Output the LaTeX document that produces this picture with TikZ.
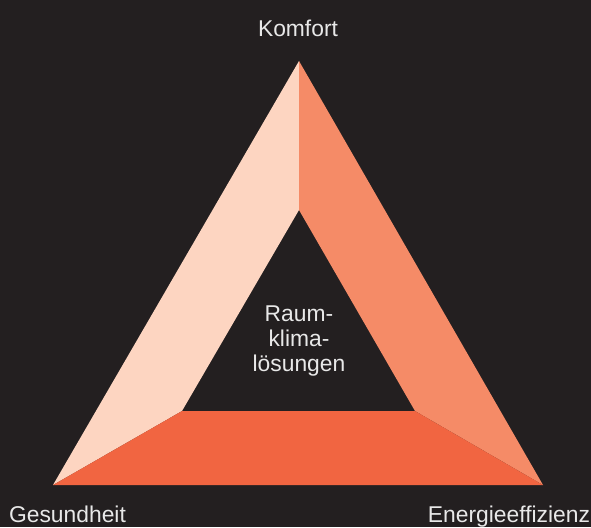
\documentclass[tikz,border=0pt]{standalone}
\usepackage{fontspec}
\setmainfont{Liberation Sans}
\definecolor{bg}{HTML}{231F20}
\definecolor{peach}{HTML}{FDD5C1}
\definecolor{salmon}{HTML}{F58B67}
\definecolor{coral}{HTML}{F16541}
\definecolor{txt}{HTML}{E8E8E8}

\begin{document}
\begin{tikzpicture}[x=0.02cm, y=-0.02cm,
    label text/.style={text=txt, font=\fontsize{13}{14.2}\selectfont, inner sep=0pt, align=center}]
                    \fill[bg] (0,0) rectangle (591,527);
                    \useasboundingbox (0,0) rectangle (591,527);
                    % outer and inner corners
                    \coordinate (outer top) at (299,61);
                    \coordinate (outer left) at (53,485);
                    \coordinate (outer right) at (543,485);
                    \coordinate (inner top) at (299,210);
                    \coordinate (inner left) at (182,411);
                    \coordinate (inner right) at (415,411);
                    \fill[peach] (outer top) -- (outer left) -- (inner left) -- (inner top) -- cycle;
                    \fill[salmon] (outer top) -- (inner top) -- (inner right) -- (outer right) -- cycle;
                    \fill[coral] (outer left) -- (outer right) -- (inner right) -- (inner left) -- cycle;
                    \node at (298,36.7) [label text, anchor=base] (Komfort) {Komfort};
                    \node at (67.5,522) [label text, anchor=base] (Gesundheit) {Gesundheit};
                    \node at (509,522) [label text, anchor=base] (Energieeffizienz) {Energieeffizienz};
                    \node at (299,341) [label text] (Raumklima) {Raum-\\klima-\\lösungen};
                \end{tikzpicture}
\end{document}
